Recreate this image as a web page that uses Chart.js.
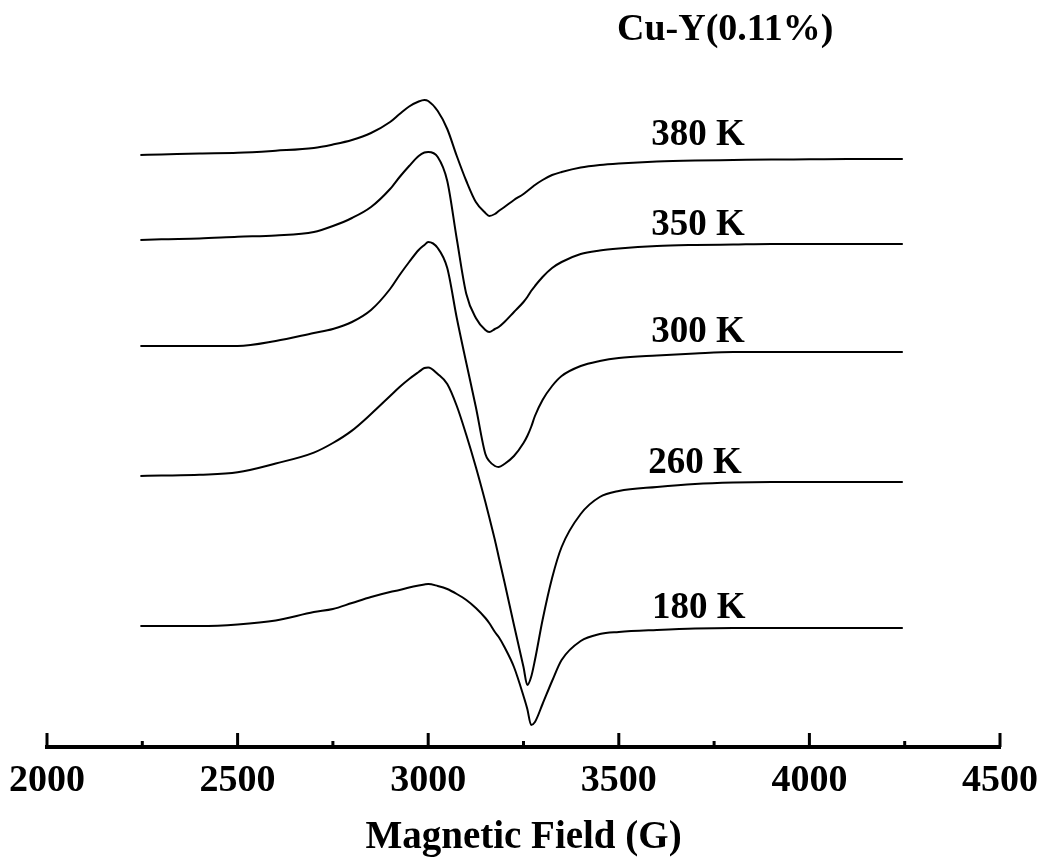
<!DOCTYPE html>
<html>
<head>
<meta charset="utf-8">
<script src="https://cdn.jsdelivr.net/npm/chart.js@4.4.1/dist/chart.umd.min.js"></script>
<style>
  html, body { margin: 0; padding: 0; background: #fff; }
  #wrap { width: 1044px; height: 857px; }
</style>
</head>
<body>
<div id="wrap"><canvas id="chart"></canvas></div>
<script>
// magnetic field points (G), shared by every spectrum
const fieldG = [2245, 2300, 2400, 2500, 2600, 2700, 2750, 2800, 2850, 2900,
  2925, 2950, 2975, 2990, 3000, 3025, 3050, 3075, 3100, 3125,
  3150, 3160, 3175, 3185, 3200, 3225, 3250, 3260, 3270, 3280,
  3300, 3325, 3350, 3400, 3450, 3500, 3600, 3700, 3800, 3900,
  4000, 4100, 4245]

// EPR signal (a.u., stacked with offsets as plotted)
const signal380 = [592, 592.5, 593.5, 594.2, 596.3, 599, 602.5, 607, 614, 625,
  633, 640.5, 645.5, 647, 646, 636, 618, 591, 566, 545,
  534, 531, 533, 536, 540, 547, 553, 556, 559, 562,
  567, 572, 575, 579.5, 582, 583.5, 585.5, 586.5, 587, 587.5,
  587.7, 588, 588]
const signal350 = [507, 507.7, 508.5, 510.2, 511.5, 515, 521, 529, 540, 558,
  570, 581, 591, 594.5, 595, 590, 566, 508, 453, 429,
  417, 415, 418, 420, 425, 435, 445, 450, 456, 461,
  470, 479, 485, 493, 496.5, 498.5, 501, 502, 502.5, 503,
  503, 503, 503]
const signal300 = [401, 401, 401, 401, 406, 414, 418, 425, 437, 458,
  472, 485, 497, 502, 505, 499, 479, 429, 384, 340,
  293, 286, 281, 280, 283, 291, 304, 311, 320, 331,
  347, 361, 371, 381, 386, 389, 391.5, 393.5, 395, 395,
  395, 395, 395]
const signal260 = [271, 271.4, 272.3, 274.7, 283.5, 294.4, 304, 316.4, 333, 351,
  360, 368, 375, 379, 379.5, 373, 363, 341, 312, 280,
  245, 230, 207, 190, 165, 122, 80, 62, 70, 87,
  127, 169, 200, 233, 250, 256, 260, 263, 264.5, 265,
  265, 265, 265]
const signal180 = [121, 121, 121, 122.5, 126.5, 135, 138, 144, 150, 155,
  157, 159.5, 161.5, 162.5, 163, 161, 158, 153, 147, 139,
  129, 124, 115, 110, 100, 80, 51, 38, 22, 25,
  43, 66, 87, 106, 113, 115, 117, 118.5, 119, 119,
  119, 119, 119]

const tempLabels = ['380 K', '350 K', '300 K', '260 K', '180 K']
const sampleName = 'Cu-Y(0.11%)'
const xTicks = [2000, 2500, 3000, 3500, 4000, 4500]
const xMinorTicks = [2250, 2750, 3250, 3750, 4250]

const serif = "'Liberation Serif', 'Times New Roman', Times, serif"

// where the temperature labels sit, in chart units
const labelAnchors = [
  { x: 3708, y: 602 },
  { x: 3708, y: 512 },
  { x: 3708, y: 405 },
  { x: 3700, y: 274 },
  { x: 3710, y: 129 },
]

const series = [signal380, signal350, signal300, signal260, signal180]

const datasets = series.map((s, i) => ({
  label: tempLabels[i],
  data: fieldG.map((g, j) => ({ x: g, y: s[j] })),
  borderColor: '#000',
  borderWidth: 2,
  pointRadius: 0,
  fill: false,
  cubicInterpolationMode: 'monotone',
}))

// inward tick marks + text labels
const annotate = {
  id: 'annotate',
  afterDraw(chart) {
    const { ctx, scales: { x, y } } = chart
    const base = x.top
    ctx.save()
    ctx.strokeStyle = '#000'
    ctx.lineWidth = 3
    xTicks.forEach((v) => {
      const px = x.getPixelForValue(v)
      ctx.beginPath()
      ctx.moveTo(px, base)
      ctx.lineTo(px, base - 14)
      ctx.stroke()
    })
    xMinorTicks.forEach((v) => {
      const px = x.getPixelForValue(v)
      ctx.beginPath()
      ctx.moveTo(px, base)
      ctx.lineTo(px, base - 6)
      ctx.stroke()
    })

    ctx.fillStyle = '#000'
    ctx.textAlign = 'center'
    ctx.textBaseline = 'alphabetic'
    ctx.font = 'bold 37px ' + serif
    tempLabels.forEach((t, i) => {
      const a = labelAnchors[i]
      ctx.fillText(t, x.getPixelForValue(a.x), y.getPixelForValue(a.y))
    })
    ctx.font = 'bold 38px ' + serif
    ctx.fillText(sampleName, x.getPixelForValue(3779), y.getPixelForValue(707))
    ctx.restore()
  },
}

const ctx = document.getElementById('chart').getContext('2d')
const chart = new Chart(ctx, {
  type: 'line',
  data: { datasets },
  options: {
    responsive: true,
    maintainAspectRatio: false,
    animation: false,
    layout: { padding: { left: 47, right: 44, top: 0, bottom: 0 } },
    plugins: {
      legend: { display: false },
      tooltip: { enabled: false },
    },
    scales: {
      x: {
        type: 'linear',
        min: 2000,
        max: 4500,
        afterBuildTicks: (scale) => {
          scale.ticks = xTicks.map((v) => ({ value: v }))
        },
        afterFit: (scale) => {
          scale.height = 110
          scale.paddingLeft = 0
          scale.paddingRight = 0
        },
        grid: { display: false, drawTicks: false },
        border: { display: true, color: '#000', width: 4 },
        ticks: {
          color: '#000',
          padding: 11,
          maxRotation: 0,
          autoSkip: false,
          callback: (v) => String(v),
          font: { family: serif, size: 38, weight: 'bold' },
        },
        title: {
          display: true,
          text: 'Magnetic Field (G)',
          color: '#000',
          padding: { top: 0, bottom: 0 },
          font: { family: serif, size: 39, weight: 'bold', lineHeight: 1.0 },
        },
      },
      y: {
        display: false,
        min: 0,
        max: 747,
      },
    },
  },
  plugins: [annotate],
})
</script>
</body>
</html>
